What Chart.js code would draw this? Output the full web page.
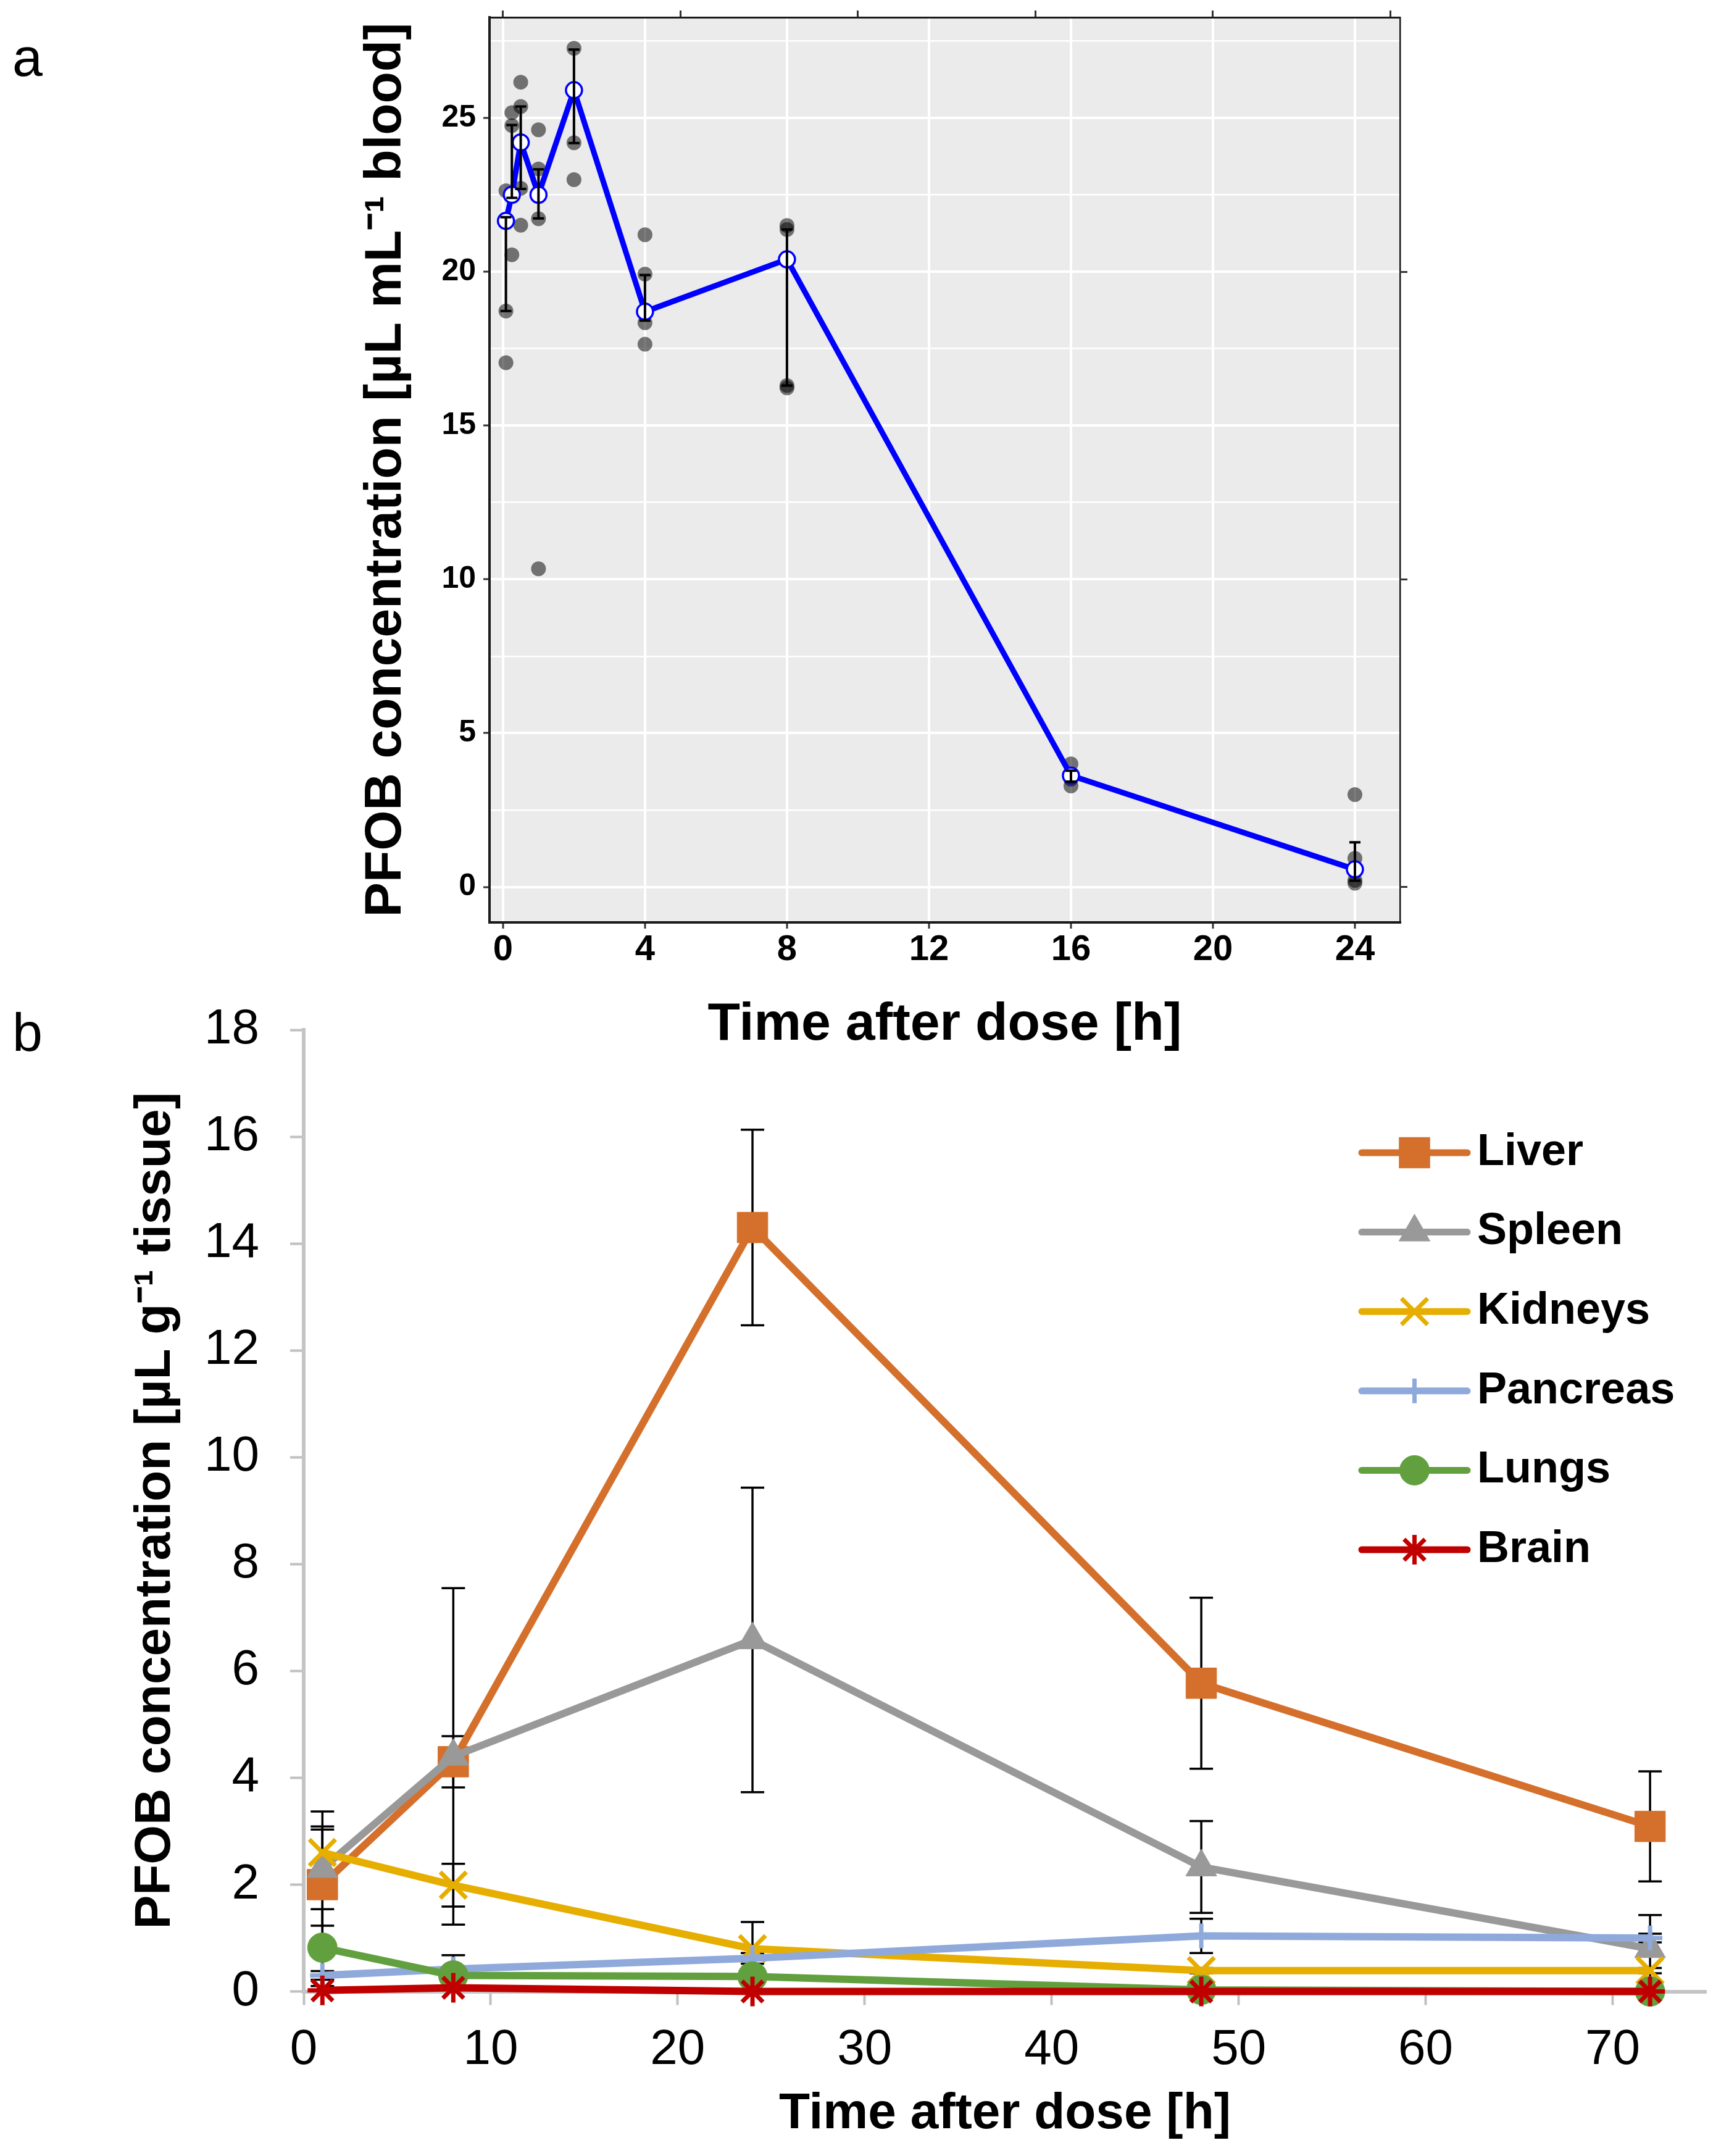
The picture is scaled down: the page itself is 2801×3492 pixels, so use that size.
<!DOCTYPE html>
<html>
<head>
<meta charset="utf-8">
<title>PFOB blood and tissue concentrations</title>
<script src="https://cdn.jsdelivr.net/npm/chart.js@4.4.1/dist/chart.umd.min.js"></script>
<style>
  html, body { margin: 0; padding: 0; background: #ffffff; }
  #wrap { position: relative; width: 2801px; height: 3492px; }
  #wrap canvas { position: absolute; left: 0; }
  #bloodChart { top: 0; }
  #organChart { top: 1580px; }
</style>
</head>
<body>
<div id="wrap">
  <canvas id="bloodChart" width="2801" height="1720"></canvas>
  <canvas id="organChart" width="2801" height="1912"></canvas>
</div>
<script>
const FONT = "'Liberation Sans', Arial, Helvetica, sans-serif";

// ---- panel a: blood (h after dose, µL/mL) ----
const bloodTime = [0.083, 0.25, 0.5, 1, 2, 4, 8, 16, 24];
const bloodMean = [21.65, 22.5, 24.2, 22.5, 25.9, 18.7, 20.4, 3.62, 0.57];
const bloodLow  = [18.72, 22.4, 22.69, 21.73, 24.18, 18.41, 16.3, 3.42, 0.2];
const bloodHigh = [21.77, 24.77, 25.37, 23.33, 27.22, 19.89, 21.37, 3.78, 1.45];

// single animals
const animalTime = [0.083, 0.083, 0.083, 0.25, 0.25, 0.25, 0.5, 0.5, 0.5, 0.5,
  1, 1, 1, 1, 2, 2, 2, 4, 4, 4, 4, 8, 8, 8, 8, 16, 16, 16, 24, 24, 24, 24];
const animalConc = [22.63, 18.72, 17.04, 25.17, 24.75, 20.55, 26.16, 25.37, 22.71, 21.51,
  24.61, 23.34, 21.72, 10.34, 27.26, 24.19, 22.99, 21.2, 19.92, 18.34, 17.64,
  21.5, 21.37, 16.3, 16.22, 4.0, 3.5, 3.28, 3.0, 0.93, 0.21, 0.12];

const bloodXTicks = [0, 4, 8, 12, 16, 20, 24];
const bloodYTicks = [0, 5, 10, 15, 20, 25];
const bloodTopTicks = [0, 5, 10, 15, 20, 25];
const bloodRightTicks = [0, 10, 20];

// ---- panel b: tissues (h after dose, µL/g) ----
const organTime = [1, 8, 24, 48, 72];
const liverMean    = [2.0, 4.3, 14.3, 5.77, 3.09];
const liverSd      = [1.03, 0.48, 1.83, 1.6, 1.03];
const spleenMean   = [2.3, 4.4, 6.58, 2.33, 0.8];
const spleenSd     = [1.07, 3.15, 2.85, 0.86, 0.63];
const kidneysMean  = [2.6, 1.99, 0.8, 0.39, 0.39];
const kidneysSd    = [0.49, 0.4, 0.5, 0.05, 0.05];
const pancreasMean = [0.3, 0.42, 0.62, 1.04, 1.0];
const pancreasSd   = [0.08, 0.26, 0.1, 0.32, 0.08];
const lungsMean    = [0.82, 0.3, 0.28, 0.03, 0.0];
const lungsSd      = [0.72, 0.05, 0.05, 0.02, 0.0];
const brainMean    = [0.02, 0.07, 0.0, 0.0, 0.0];
const brainSd      = [0.01, 0.02, 0.0, 0.0, 0.0];

const organXTicks = [0, 10, 20, 30, 40, 50, 60, 70];
const organYTicks = [0, 2, 4, 6, 8, 10, 12, 14, 16, 18];

Chart.defaults.font.family = FONT;

function fixedTicks(list) {
  return function (scale) { scale.ticks = list.map(v => ({ value: v })); };
}

// ---------------- panel a ----------------
const panelBg = {
  id: 'panelBg',
  beforeDraw(chart) {
    const a = chart.chartArea, ctx = chart.ctx;
    ctx.save();
    ctx.fillStyle = '#EBEBEB';
    ctx.fillRect(a.left, a.top, a.right - a.left, a.bottom - a.top);
    ctx.restore();
  }
};

const bloodErrorBars = {
  id: 'bloodErrorBars',
  afterDatasetsDraw(chart) {
    const { ctx, scales: { x, y } } = chart;
    ctx.save();
    ctx.strokeStyle = '#000000';
    ctx.lineWidth = 4;
    bloodTime.forEach((t, i) => {
      const px = x.getPixelForValue(t);
      const lo = y.getPixelForValue(bloodLow[i]);
      const hi = y.getPixelForValue(bloodHigh[i]);
      ctx.beginPath();
      ctx.moveTo(px, lo); ctx.lineTo(px, hi);
      ctx.moveTo(px - 9, lo); ctx.lineTo(px + 9, lo);
      ctx.moveTo(px - 9, hi); ctx.lineTo(px + 9, hi);
      ctx.stroke();
    });
    ctx.restore();
  }
};

const panelLetter = {
  id: 'panelLetter',
  afterDraw(chart, args, opts) {
    const ctx = chart.ctx;
    ctx.save();
    ctx.fillStyle = '#000';
    ctx.font = '88px ' + FONT;
    ctx.textAlign = 'left';
    ctx.textBaseline = 'alphabetic';
    ctx.fillText(opts.text, opts.x, opts.y);
    ctx.restore();
  }
};

new Chart(document.getElementById('bloodChart'), {
  data: {
    datasets: [{
      type: 'scatter',
      label: 'single animals',
      data: animalTime.map((t, i) => ({ x: t, y: animalConc[i] })),
      pointRadius: 12,
      pointBackgroundColor: 'rgba(0,0,0,0.52)',
      pointBorderWidth: 0,
      order: 2
    }, {
      type: 'line',
      label: 'mean',
      data: bloodTime.map((t, i) => ({ x: t, y: bloodMean[i] })),
      borderColor: '#0000FF',
      borderWidth: 9,
      tension: 0,
      pointRadius: 13,
      pointBackgroundColor: '#FFFFFF',
      pointBorderColor: '#0000FF',
      pointBorderWidth: 3.5,
      order: 1
    }]
  },
  options: {
    responsive: false,
    animation: false,
    events: [],
    layout: { padding: { left: 575, right: 513, top: 0, bottom: 0 } },
    scales: {
      x: {
        type: 'linear', position: 'bottom', min: -0.38, max: 25.27,
        afterBuildTicks: fixedTicks(bloodXTicks),
        afterFit: s => { s.height = 226; s.paddingLeft = 0; s.paddingRight = 0; },
        grid: { color: '#FFFFFF', lineWidth: 4, tickColor: '#333333', tickLength: 10, tickWidth: 3 },
        border: { color: '#1A1A1A', width: 4 },
        ticks: { color: '#000', padding: 0, maxRotation: 0, font: { size: 58, weight: 'bold' }, callback: v => String(v) },
        title: { display: true, text: 'Time after dose [h]', color: '#000',
                 font: { size: 86, weight: 'bold' }, padding: { top: 0, bottom: 8 } }
      },
      xTop: {
        type: 'linear', position: 'top', min: -0.38, max: 25.27,
        afterBuildTicks: fixedTicks(bloodTopTicks),
        afterFit: s => { s.height = 28; s.paddingLeft = 0; s.paddingRight = 0; },
        grid: { drawOnChartArea: false, tickColor: '#333333', tickLength: 11, tickWidth: 3 },
        border: { color: '#1A1A1A', width: 3 },
        ticks: { display: false }
      },
      y: {
        type: 'linear', position: 'left', min: -1.154, max: 28.27,
        afterBuildTicks: s => {
          const t = [];
          bloodYTicks.forEach(v => { t.push({ value: v }); t.push({ value: v + 2.5 }); });
          s.ticks = t;
        },
        afterFit: s => { s.width = 218; s.paddingTop = 0; s.paddingBottom = 0; },
        grid: {
          color: '#FFFFFF',
          lineWidth: c => (c.tick && bloodYTicks.includes(c.tick.value)) ? 4 : 2.5,
          tickColor: c => (c.tick && bloodYTicks.includes(c.tick.value)) ? '#333333' : 'rgba(0,0,0,0)',
          tickLength: 10, tickWidth: 3
        },
        border: { color: '#1A1A1A', width: 4 },
        ticks: { color: '#000', padding: 12, font: { size: 50, weight: 'bold' },
                 callback: v => bloodYTicks.includes(v) ? String(v) : '' },
        title: { display: true, text: 'PFOB concentration [µL mL⁻¹ blood]', color: '#000',
                 font: { size: 84, weight: 'bold' }, padding: { top: 0, bottom: 0 } }
      },
      yRight: {
        type: 'linear', position: 'right', min: -1.154, max: 28.27,
        afterBuildTicks: fixedTicks(bloodRightTicks),
        afterFit: s => { s.width = 20; s.paddingTop = 0; s.paddingBottom = 0; },
        grid: { drawOnChartArea: false, tickColor: '#333333', tickLength: 12, tickWidth: 3 },
        border: { color: '#1A1A1A', width: 2.5 },
        ticks: { display: false }
      }
    },
    plugins: {
      legend: { display: false },
      tooltip: { enabled: false },
      panelLetter: { text: 'a', x: 20, y: 123 }
    }
  },
  plugins: [panelBg, bloodErrorBars, panelLetter]
});

// ---------------- panel b ----------------
function organSet(label, mean, sd, color, style, radius, order) {
  const stroked = style === 'cross' || style === 'crossRot' || style === 'star';
  return {
    type: 'line',
    label: label,
    data: organTime.map((t, i) => ({ x: t, y: mean[i] })),
    sd: sd,
    clip: false,
    borderColor: color,
    backgroundColor: color,
    borderWidth: 12,
    borderJoinStyle: 'round',
    borderCapStyle: 'round',
    tension: 0,
    pointStyle: style,
    pointRadius: radius,
    pointBackgroundColor: color,
    pointBorderColor: color,
    pointBorderWidth: stroked ? 7 : 1,
    order: order
  };
}

const organErrorBars = {
  id: 'organErrorBars',
  beforeDatasetsDraw(chart) {
    const { ctx, scales: { x, y } } = chart;
    ctx.save();
    ctx.strokeStyle = '#000000';
    ctx.lineWidth = 3.5;
    chart.data.datasets.forEach(ds => {
      ds.data.forEach((p, i) => {
        const sd = ds.sd[i];
        if (!sd) return;
        const px = x.getPixelForValue(p.x);
        const lo = y.getPixelForValue(p.y - sd);
        const hi = y.getPixelForValue(p.y + sd);
        ctx.beginPath();
        ctx.moveTo(px, lo); ctx.lineTo(px, hi);
        ctx.moveTo(px - 19, lo); ctx.lineTo(px + 19, lo);
        ctx.moveTo(px - 19, hi); ctx.lineTo(px + 19, hi);
        ctx.stroke();
      });
    });
    ctx.restore();
  }
};

const organLegend = {
  id: 'organLegend',
  afterDraw(chart, args, opts) {
    const ctx = chart.ctx;
    ctx.save();
    chart.data.datasets.forEach((ds, i) => {
      const yy = opts.top + i * opts.step;
      ctx.strokeStyle = ds.borderColor;
      ctx.lineWidth = 11;
      ctx.lineCap = 'round';
      ctx.beginPath();
      ctx.moveTo(opts.lineStart, yy);
      ctx.lineTo(opts.lineEnd, yy);
      ctx.stroke();
      ctx.lineCap = 'butt';
      ctx.fillStyle = ds.pointBackgroundColor;
      ctx.strokeStyle = ds.pointBorderColor;
      ctx.lineWidth = ds.pointBorderWidth;
      Chart.helpers.drawPoint(ctx, {
        pointStyle: ds.pointStyle, radius: ds.pointRadius, rotation: 0, borderWidth: ds.pointBorderWidth
      }, (opts.lineStart + opts.lineEnd) / 2, yy);
      ctx.fillStyle = '#000';
      ctx.font = 'bold 72px ' + FONT;
      ctx.textAlign = 'left';
      ctx.textBaseline = 'middle';
      ctx.fillText(ds.label, opts.textX, yy);
    });
    ctx.restore();
  }
};

new Chart(document.getElementById('organChart'), {
  data: {
    datasets: [
      organSet('Liver', liverMean, liverSd, '#D4702C', 'rect', 35, 6),
      organSet('Spleen', spleenMean, spleenSd, '#999999', 'triangle', 29, 5),
      organSet('Kidneys', kidneysMean, kidneysSd, '#E6AE00', 'crossRot', 30, 4),
      organSet('Pancreas', pancreasMean, pancreasSd, '#8FA9DB', 'cross', 20, 3),
      organSet('Lungs', lungsMean, lungsSd, '#62A03F', 'circle', 24, 2),
      organSet('Brain', brainMean, brainSd, '#C00000', 'star', 24, 1)
    ]
  },
  options: {
    responsive: false,
    animation: false,
    events: [],
    layout: { padding: { left: 203, right: 15, top: 88, bottom: 0 } },
    scales: {
      x: {
        type: 'linear', position: 'bottom', min: 0, max: 75,
        afterBuildTicks: fixedTicks(organXTicks),
        afterFit: s => { s.height = 266.5; s.paddingLeft = 0; s.paddingRight = 0; },
        grid: { drawOnChartArea: false, tickColor: '#C0C0C0', tickLength: 22, tickWidth: 4 },
        border: { color: '#C4C4C4', width: 6 },
        ticks: { color: '#000', padding: 25, maxRotation: 0, font: { size: 80 } },
        title: { display: true, text: 'Time after dose [h]', color: '#000',
                 font: { size: 82, weight: 'bold' }, padding: { top: 0, bottom: 18 } }
      },
      y: {
        type: 'linear', position: 'left', min: 0, max: 18,
        afterBuildTicks: fixedTicks(organYTicks),
        afterFit: s => { s.width = 289; s.paddingTop = 0; s.paddingBottom = 0; },
        grid: { drawOnChartArea: false, tickColor: '#C0C0C0', tickLength: 22, tickWidth: 4 },
        border: { color: '#C4C4C4', width: 6 },
        ticks: { color: '#000', padding: 50, font: { size: 80 } },
        title: { display: true, text: 'PFOB concentration [µL g⁻¹ tissue]', color: '#000',
                 font: { size: 82, weight: 'bold' }, padding: { top: 0, bottom: 0 } }
      }
    },
    plugins: {
      legend: { display: false },
      tooltip: { enabled: false },
      organLegend: { top: 287, step: 128.6, lineStart: 2206, lineEnd: 2377, textX: 2393 },
      panelLetter: { text: 'b', x: 20, y: 122 }
    }
  },
  plugins: [organErrorBars, organLegend, panelLetter]
});
</script>
</body>
</html>
